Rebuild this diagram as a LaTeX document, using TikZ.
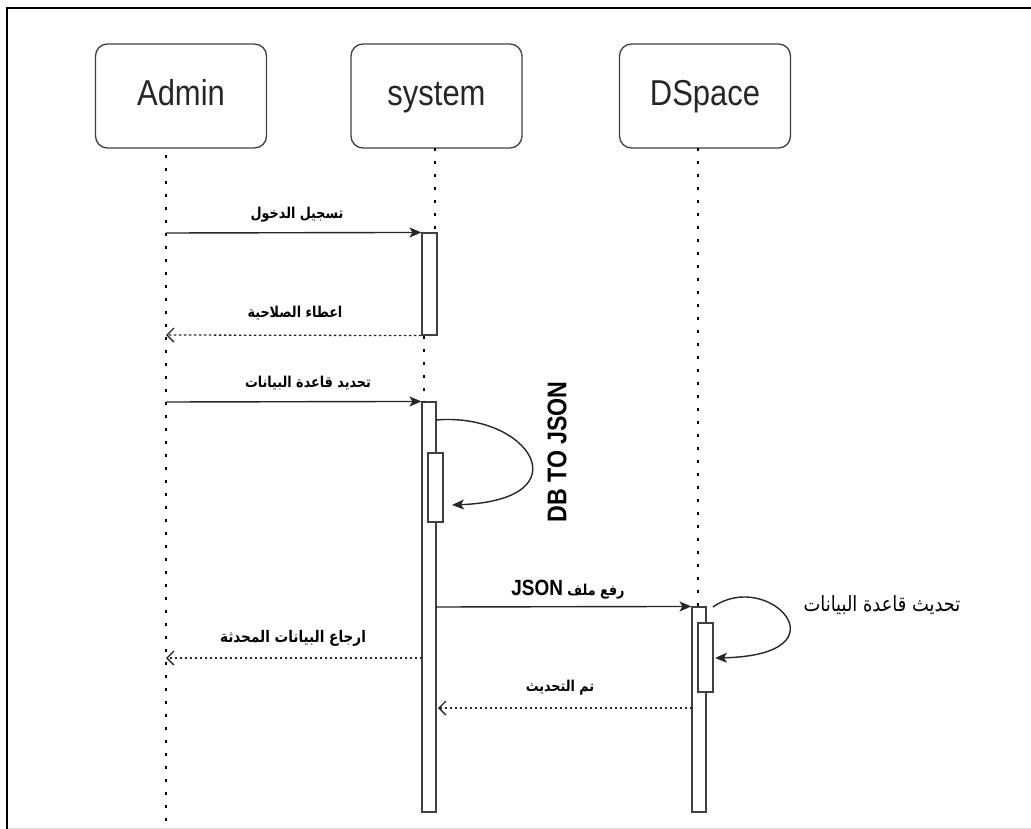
\documentclass[tikz,border=0pt]{standalone}
\usepackage{fontspec}
\usetikzlibrary{arrows.meta}
\TeXXeTstate=1
\newfontfamily\latfont[FakeStretch=0.86]{Liberation Sans}
\newfontfamily\arfont[Script=Arabic,FakeStretch=0.85]{DejaVu Sans}
\tikzset{
  actor/.style={draw=black!75, line width=1.3pt, rounded corners=12pt, minimum width=171pt, minimum height=104pt, font=\latfont\fontsize{36}{40}\selectfont, inner sep=0pt, text height=26pt, text depth=7pt, text=black!85},
  act/.style={draw=black!75, line width=1.1pt, fill=white, minimum width=15pt, inner sep=0pt},
  msg/.style={draw=black!85, line width=1.4pt, -{Stealth[length=12pt,width=10pt,inset=3pt]}},
  ret/.style={draw=black!85, line width=1.3pt, dash pattern=on 2.5pt off 2.5pt, -{Straight Barb[length=7pt,width=14pt]}},
  life/.style={black, line width=1.5pt, dash pattern=on 3pt off 10pt},
  lbl/.style={font=\arfont\bfseries\fontsize{15}{18}\selectfont, inner sep=0pt},
  lblr/.style={font=\arfont\fontsize{21}{24}\selectfont, inner sep=0pt},
}
\begin{document}
\begin{tikzpicture}[x=1pt,y=-1pt]
\useasboundingbox (0,0) rectangle (1031,829);
% frame
\draw[black, line width=2pt] (7,829) -- (7,8) -- (1031,8);
\draw[black!12, line width=1pt] (8,828.5) -- (1031,828.5);
% actors
\node[actor] (admin) at (181,96) {Admin};
\node[actor] (system) at (436.5,96) {system};
\node[actor] (dspace) at (705,96) {DSpace};
% lifeline coordinates
\coordinate (adTop) at (166,155);
\coordinate (adBot) at (166,829);
\coordinate (syTop) at (435,148);
\coordinate (syMidA) at (424,336);
\coordinate (syMidB) at (424,402);
\coordinate (dsTop) at (698,148);
% activations
\node[act, minimum height=102pt] (a1) at (429.5,284) {};
\node[act, minimum height=410pt, minimum width=14pt] (a2) at (429,607) {};
\node[act, minimum height=69pt] (a2n) at (435.5,487.5) {};
\node[act, minimum height=205pt, minimum width=14pt] (d1) at (699,709.5) {};
\node[act, minimum height=69pt] (d1n) at (705.5,657.5) {};
% lifelines
\draw[life] (adTop) -- (adBot);
\draw[life] (syTop) -- (syTop |- a1.north);
\draw[life] (syMidA) -- (syMidB);
\draw[life] (dsTop) -- (dsTop |- d1.north);
% message coordinates
\coordinate (m1s) at (166,233);
\coordinate (m2e) at (166,335);
\coordinate (m3s) at (166,402);
\coordinate (s1s) at (436,420);
\coordinate (s1e) at (452,505);
\coordinate (m5s) at (436,607);
\coordinate (m6s) at (422,658);
\coordinate (m6e) at (166,658);
\coordinate (s2s) at (713,607);
\coordinate (s2e) at (715,658);
\coordinate (m8s) at (692,708);
\coordinate (m8e) at (438,708);
% messages
\draw[msg] (m1s) -- (a1.north west);
\draw[ret] (a1.south west) -- (m2e);
\draw[msg] (m3s) -- (a2.north west);
\draw[msg] (s1s) .. controls (530,412) and (585,500) .. (s1e);
\draw[msg] (m5s) -- (d1.north west);
\draw[ret] (m6s) -- (m6e);
\draw[msg] (s2s) .. controls (768,568) and (850,655) .. (s2e);
\draw[ret] (m8s) -- (m8e);
% labels
\node[lbl] (l1) at (297,215) {\beginR تسجيل الدخول\endR};
\node[lbl] (l2) at (295,313) {\beginR اعطاء الصلاحية\endR};
\node[lbl] (l3) at (308,383) {\beginR تحديد قاعدة البيانات\endR};
\node[lbl] (l4) at (568,590) {\beginR رفع ملف \beginL\latfont\bfseries\fontsize{22}{24}\selectfont JSON\endL\endR};
\node[lbl, font=\arfont\bfseries\fontsize{16}{18}\selectfont] (l5) at (293,638) {\beginR ارجاع البيانات المحدثة\endR};
\node[lbl] (l6) at (560,688) {\beginR تم التحديث\endR};
\node[lblr] (l7) at (882,605) {\beginR تحديث قاعدة البيانات\endR};
\node[font=\latfont\bfseries\fontsize{27}{29}\selectfont, rotate=90, inner sep=0pt] (l8) at (557,452) {DB TO JSON};
\end{tikzpicture}
\end{document}
